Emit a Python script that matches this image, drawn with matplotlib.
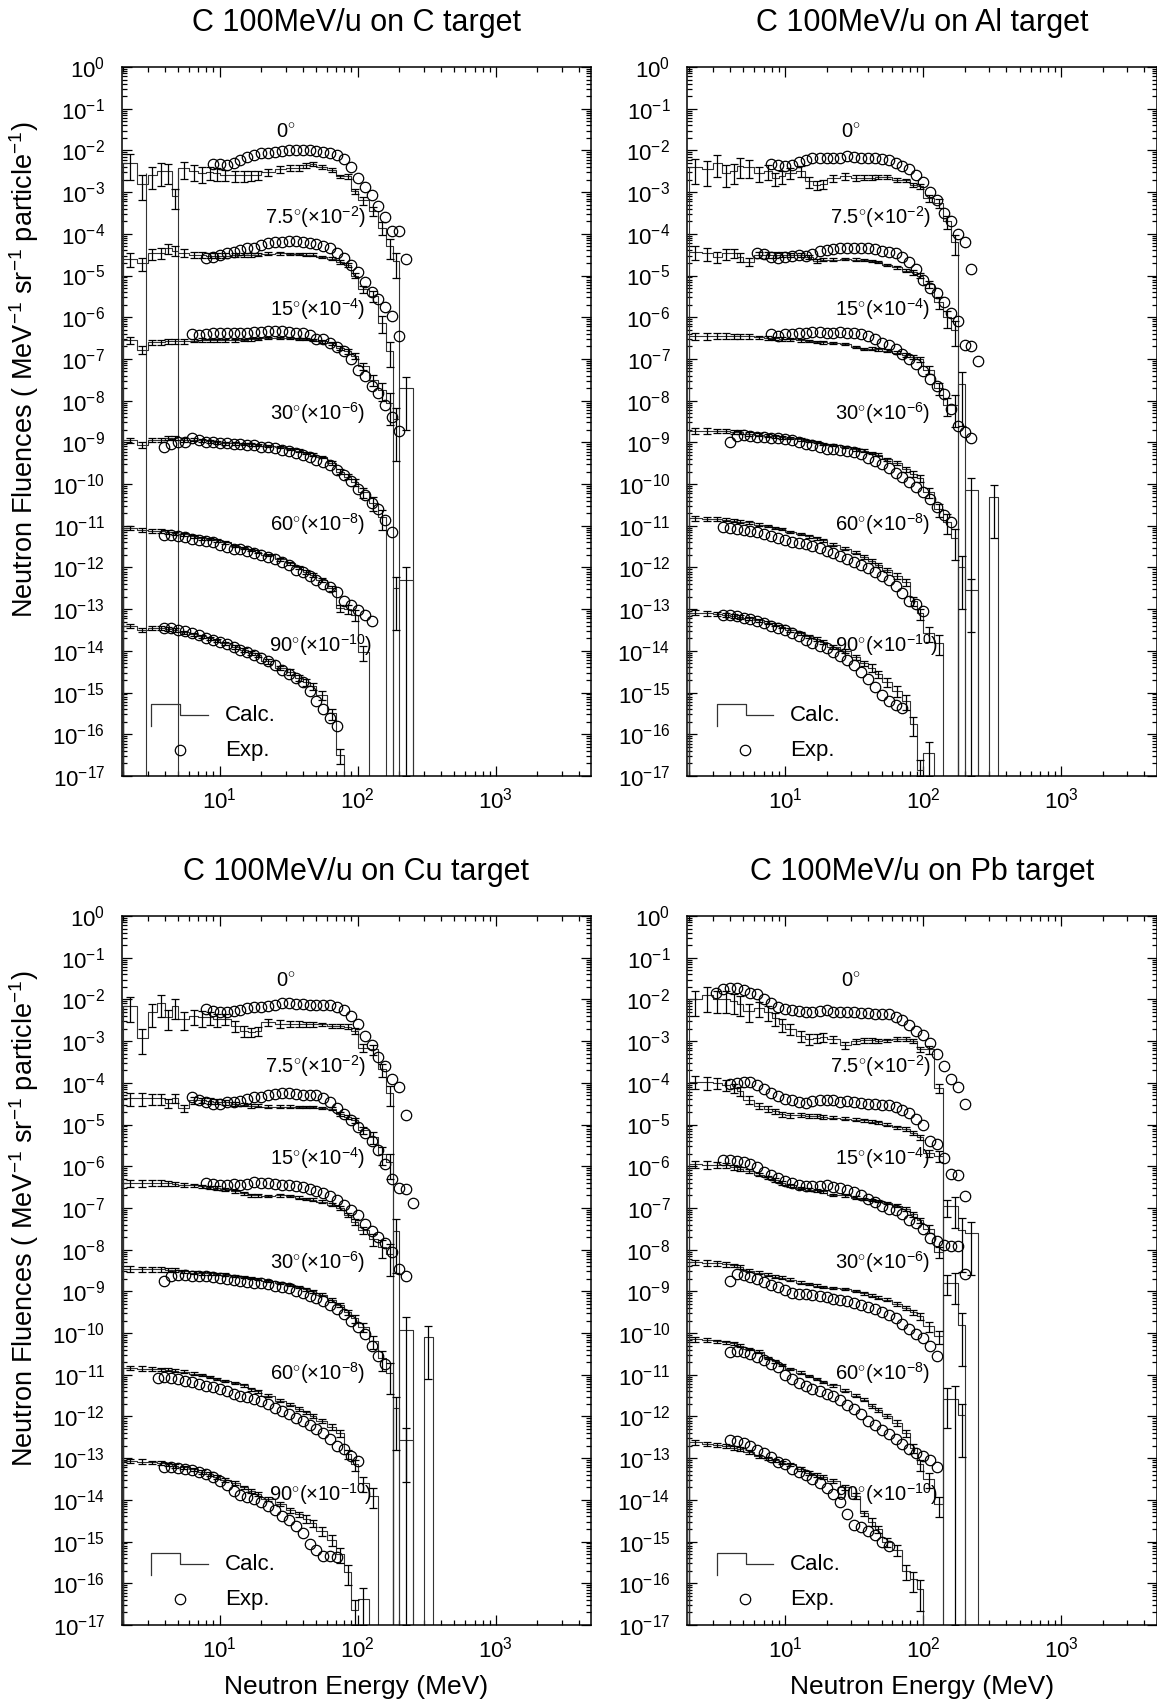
import numpy as np
import matplotlib
matplotlib.use('Agg')
import matplotlib.pyplot as plt
from matplotlib.ticker import LogLocator, NullFormatter

plt.rcParams['font.family'] = ['Liberation Sans', 'DejaVu Sans']
plt.rcParams['mathtext.fontset'] = 'custom'
plt.rcParams['mathtext.rm'] = 'Liberation Sans'
plt.rcParams['mathtext.it'] = 'Liberation Sans:italic'
plt.rcParams['mathtext.bf'] = 'Liberation Sans:bold'

# bin edges of the calculated spectra (MeV)
edges = [2, 2.5, 3, 3.5, 4, 4.5, 5, 6, 7, 8, 9, 10, 12, 14, 16, 18, 20, 25, 30, 35,
         40, 45, 50, 60, 70, 80, 90, 100, 120, 140, 160, 180, 200, 250, 300, 350]
# energies of the measured points (MeV)
exp_energy = [3.16, 3.55, 3.98, 4.47, 5.01, 5.62, 6.31, 7.08, 7.94, 8.91, 10.0, 11.2, 12.6,
              14.1, 15.8, 17.8, 20.0, 22.4, 25.1, 28.2, 31.6, 35.5, 39.8, 44.7, 50.1, 56.2,
              63.1, 70.8, 79.4, 89.1, 100, 112, 126, 141, 158, 178, 200, 224, 251]

angle_labels = [r'0$^{\circ}$', r'7.5$^{\circ}$($\times$10$^{-2}$)', r'15$^{\circ}$($\times$10$^{-4}$)',
                r'30$^{\circ}$($\times$10$^{-6}$)', r'60$^{\circ}$($\times$10$^{-8}$)',
                r'90$^{\circ}$($\times$10$^{-10}$)']
label_E = [30, 49, 51, 51, 51, 54]
label_logy = [-1.55, -3.6, -5.8, -8.3, -10.95, -13.85]

# relative statistical error of the calculation, per angle and bin
calc_err = [
    [0.6, 0.6, 0.55, 0.55, 0.5, 0.5, 0.45, 0.4, 0.4, 0.35, 0.35, 0.3, 0.3, 0.3, 0.25, 0.25, 0.2, 0.2,
     0.15, 0.15, 0.12, 0.12, 0.1, 0.1, 0.1, 0.12, 0.15, 0.2, 0.25, 0.35, 0.5, 0.6, 0.6, 0.6, 0.6],
    [0.35, 0.35, 0.3, 0.3, 0.25, 0.25, 0.2, 0.18, 0.16, 0.15, 0.14, 0.12, 0.11, 0.1, 0.1, 0.09, 0.08,
     0.07, 0.07, 0.07, 0.07, 0.07, 0.07, 0.08, 0.1, 0.12, 0.15, 0.2, 0.3, 0.45, 0.6, 0.8, 0.8, 0.8, 0.8],
    [0.2, 0.2, 0.16, 0.15, 0.14, 0.13, 0.12, 0.1, 0.1, 0.09, 0.09, 0.08, 0.08, 0.07, 0.07, 0.07, 0.06,
     0.06, 0.06, 0.06, 0.06, 0.07, 0.07, 0.08, 0.1, 0.12, 0.15, 0.2, 0.3, 0.45, 0.7, 0.9, 0.9, 0.9, 0.9],
    [0.15, 0.15, 0.12, 0.12, 0.1, 0.1, 0.1, 0.08, 0.08, 0.08, 0.07, 0.07, 0.07, 0.06, 0.06, 0.06, 0.06,
     0.06, 0.06, 0.07, 0.07, 0.08, 0.08, 0.1, 0.12, 0.15, 0.2, 0.25, 0.35, 0.5, 0.7, 0.9, 1.0, 1.0, 0.9],
    [0.12, 0.12, 0.1, 0.1, 0.09, 0.09, 0.08, 0.08, 0.07, 0.07, 0.07, 0.07, 0.07, 0.07, 0.07, 0.07, 0.07,
     0.08, 0.08, 0.09, 0.1, 0.11, 0.12, 0.15, 0.2, 0.25, 0.3, 0.4, 0.5, 0.8, 1.0, 0.9, 0.9, 1.0, 1.0],
    [0.12, 0.12, 0.1, 0.1, 0.1, 0.1, 0.09, 0.09, 0.09, 0.09, 0.09, 0.09, 0.1, 0.1, 0.1, 0.1, 0.12, 0.12,
     0.15, 0.15, 0.2, 0.2, 0.25, 0.3, 0.4, 0.5, 0.7, 0.8, 0.9, 1.0, 1.0, 1.0, 1.0, 1.0, 1.0],
]

# ---- C target: log10 of plotted fluence ----
calc_C = [
    [-2.3, -2.8, -2.59, -2.5, -2.5, -3.1, -2.43, -2.5, -2.55, -2.52, -2.55, -2.58, -2.6, -2.6, -2.6, -2.58,
     -2.52, -2.45, -2.42, -2.42, -2.36, -2.33, -2.4, -2.47, -2.62, -2.62, -2.98, -3.2, -3.45, -3.85, -4.3,
     -4.66, None, None, None],
    [-4.6, -4.7, -4.47, -4.45, -4.35, -4.4, -4.45, -4.5, -4.5, -4.52, -4.52, -4.52, -4.5, -4.5, -4.5, -4.5,
     -4.48, -4.47, -4.48, -4.48, -4.5, -4.5, -4.55, -4.6, -4.67, -4.75, -5.0, -5.32, -5.48, -6.13, -6.8,
     None, None, None, None],
    [-6.55, -6.78, -6.6, -6.6, -6.58, -6.58, -6.58, -6.56, -6.55, -6.55, -6.55, -6.55, -6.55, -6.55, -6.53,
     -6.52, -6.5, -6.49, -6.5, -6.52, -6.53, -6.55, -6.58, -6.62, -6.73, -6.82, -6.93, -7.18, -7.5, -7.75,
     -8.05, -8.45, -7.7, None, None],
    [-8.95, -9.06, -8.94, -8.94, -8.9, -8.9, -8.94, -8.94, -8.95, -8.97, -9.0, -9.02, -9.02, -9.03, -9.05,
     -9.06, -9.08, -9.12, -9.16, -9.2, -9.25, -9.3, -9.35, -9.5, -9.7, -9.82, -9.95, -10.2, -10.45, -10.8,
     None, -12.5, -12.3, None, None],
    [-11.05, -11.1, -11.12, -11.13, -11.15, -11.18, -11.2, -11.25, -11.3, -11.32, -11.35, -11.4, -11.48,
     -11.53, -11.58, -11.62, -11.7, -11.8, -11.9, -12.0, -12.1, -12.18, -12.3, -12.5, -12.97, -13.0, -13.13,
     -14.03, None, None, None, None, None, None, None],
    [-13.4, -13.5, -13.45, -13.45, -13.48, -13.5, -13.55, -13.6, -13.65, -13.7, -13.75, -13.82, -13.9,
     -13.98, -14.05, -14.1, -14.25, -14.4, -14.5, -14.65, -14.75, -14.85, -15.05, -15.5, -16.5,
     None, None, None, None, None, None, None, None, None, None],
]
exp_start_C = [9, 8, 6, 2, 2, 2]
exp_C = [
    [-2.33, -2.33, -2.36, -2.31, -2.23, -2.15, -2.11, -2.06, -2.06, -2.05, -2.02, -2.0, -2.0, -2.0, -2.0,
     -2.02, -2.04, -2.06, -2.1, -2.2, -2.4, -2.67, -2.87, -3.06, -3.34, -3.6, -3.93, -3.93, -4.6],
    [-4.59, -4.55, -4.51, -4.47, -4.43, -4.39, -4.35, -4.33, -4.27, -4.23, -4.2, -4.19, -4.17, -4.17, -4.19,
     -4.21, -4.24, -4.28, -4.33, -4.47, -4.58, -4.75, -4.92, -5.16, -5.4, -5.56, -5.75, -5.96, -6.45],
    [-6.4, -6.42, -6.4, -6.38, -6.37, -6.37, -6.38, -6.37, -6.37, -6.35, -6.35, -6.33, -6.33, -6.33, -6.35,
     -6.37, -6.38, -6.42, -6.51, -6.53, -6.61, -6.72, -6.81, -7.0, -7.26, -7.42, -7.66, -7.82, -8.1, -8.4,
     -8.73],
    [-9.1, -9.03, -9.0, -8.98, -8.9, -8.95, -8.98, -9.0, -9.01, -9.02, -9.04, -9.05, -9.06, -9.07, -9.1,
     -9.12, -9.14, -9.18, -9.2, -9.25, -9.3, -9.36, -9.42, -9.47, -9.55, -9.66, -9.78, -9.93, -10.12, -10.27,
     -10.45, -10.6, -10.85, -11.15],
    [-11.23, -11.23, -11.25, -11.28, -11.31, -11.33, -11.36, -11.4, -11.45, -11.52, -11.55, -11.56, -11.6,
     -11.65, -11.7, -11.74, -11.8, -11.87, -11.95, -12.05, -12.12, -12.2, -12.3, -12.4, -12.48, -12.6, -12.8,
     -12.9, -13.03, -13.15, -13.29],
    [-13.45, -13.45, -13.5, -13.53, -13.58, -13.62, -13.68, -13.73, -13.78, -13.83, -13.9, -13.98, -14.03,
     -14.1, -14.18, -14.25, -14.35, -14.45, -14.55, -14.65, -14.75, -14.95, -15.2, -15.4, -15.6, -15.8],
]
drops_C = [(2.9, -2.55), (5.0, -2.45)]

# ---- Al target ----
calc_Al = [
    [-2.4, -2.45, -2.29, -2.54, -2.5, -2.37, -2.4, -2.54, -2.49, -2.66, -2.62, -2.54, -2.49, -2.74, -2.82,
     -2.8, -2.66, -2.62, -2.66, -2.65, -2.65, -2.64, -2.64, -2.7, -2.72, -2.82, -2.86, -3.14, -3.26, -3.7,
     -4.2, None, None, None, None],
    [-4.43, -4.47, -4.55, -4.47, -4.45, -4.55, -4.67, -4.5, -4.5, -4.5, -4.5, -4.5, -4.5, -4.55, -4.65,
     -4.62, -4.62, -4.6, -4.62, -4.63, -4.65, -4.68, -4.75, -4.8, -4.88, -4.92, -5.0, -5.2, -5.64, -6.0,
     -6.3, None, None, None, None],
    [-6.45, -6.45, -6.45, -6.45, -6.45, -6.46, -6.46, -6.48, -6.5, -6.5, -6.52, -6.53, -6.55, -6.57, -6.59,
     -6.6, -6.62, -6.65, -6.72, -6.77, -6.75, -6.77, -6.8, -6.85, -6.9, -6.95, -7.01, -7.26, -7.7, -8.1,
     -8.1, -7.6, None, None, None],
    [-8.72, -8.72, -8.72, -8.72, -8.75, -8.75, -8.8, -8.82, -8.84, -8.85, -8.88, -8.9, -8.93, -8.97, -9.0,
     -9.03, -9.07, -9.12, -9.17, -9.2, -9.25, -9.3, -9.4, -9.5, -9.65, -9.75, -9.85, -10.2, -10.6, -10.9,
     -11.3, None, -10.15, None, -10.3],
    [-10.82, -10.83, -10.84, -10.85, -10.88, -10.9, -10.92, -10.97, -11.0, -11.05, -11.08, -11.15, -11.2,
     -11.25, -11.3, -11.35, -11.45, -11.55, -11.65, -11.75, -11.85, -11.95, -12.05, -12.2, -12.35, -12.8,
     -13.1, -13.57, -13.8, None, None, -12.0, -12.55, None, None],
    [-13.08, -13.1, -13.12, -13.14, -13.16, -13.18, -13.22, -13.27, -13.32, -13.37, -13.42, -13.5, -13.58,
     -13.65, -13.72, -13.78, -13.9, -14.0, -14.15, -14.3, -14.4, -14.55, -14.75, -14.95, -15.2, -15.75,
     -16.85, -16.45, None, None, None, None, None, None, None],
]
exp_start_Al = [8, 6, 8, 2, 1, 1]
exp_Al = [
    [-2.33, -2.36, -2.38, -2.34, -2.28, -2.23, -2.19, -2.19, -2.18, -2.18, -2.18, -2.14, -2.15, -2.18, -2.19,
     -2.19, -2.21, -2.24, -2.3, -2.38, -2.45, -2.58, -2.75, -3.0, -3.2, -3.5, -3.7, -4.0, -4.2, -4.85],
    [-4.45, -4.48, -4.55, -4.58, -4.56, -4.53, -4.5, -4.53, -4.48, -4.42, -4.39, -4.36, -4.35, -4.34, -4.34,
     -4.34, -4.34, -4.37, -4.4, -4.43, -4.47, -4.55, -4.68, -4.85, -5.1, -5.3, -5.42, -5.64, -5.9, -6.1,
     -6.66, -6.7, -7.06],
    [-6.41, -6.44, -6.41, -6.39, -6.37, -6.37, -6.35, -6.35, -6.37, -6.37, -6.36, -6.37, -6.38, -6.41, -6.44,
     -6.53, -6.61, -6.67, -6.77, -6.88, -7.0, -7.12, -7.3, -7.48, -7.66, -7.85, -8.2, -8.6, -8.75, -8.9],
    [-9.0, -8.85, -8.82, -8.84, -8.86, -8.87, -8.89, -8.9, -8.93, -8.95, -9.0, -9.03, -9.07, -9.1, -9.15,
     -9.17, -9.19, -9.2, -9.24, -9.29, -9.37, -9.45, -9.53, -9.62, -9.73, -9.82, -9.95, -10.08, -10.2,
     -10.35, -10.55, -10.75, -10.9],
    [-11.03, -11.06, -11.07, -11.09, -11.12, -11.16, -11.2, -11.25, -11.29, -11.33, -11.38, -11.42, -11.44,
     -11.48, -11.54, -11.6, -11.66, -11.73, -11.8, -11.87, -11.95, -12.02, -12.1, -12.2, -12.3, -12.45,
     -12.62, -12.8, -12.88, -13.04],
    [-13.14, -13.15, -13.17, -13.2, -13.23, -13.28, -13.33, -13.4, -13.45, -13.5, -13.57, -13.65, -13.75,
     -13.82, -13.88, -13.94, -14.02, -14.12, -14.22, -14.35, -14.5, -14.68, -14.86, -15.05, -15.2, -15.3,
     -15.38],
]
drops_Al = []

# ---- Cu target ----
calc_Cu = [
    [-2.15, -2.92, -2.31, -2.08, -2.43, -2.16, -2.47, -2.4, -2.43, -2.43, -2.47, -2.47, -2.63, -2.75, -2.78,
     -2.75, -2.55, -2.58, -2.58, -2.58, -2.6, -2.6, -2.6, -2.63, -2.63, -2.65, -2.75, -3.16, -3.2, -3.68,
     -4.25, None, None, None, None],
    [-4.37, -4.37, -4.37, -4.37, -4.49, -4.37, -4.61, -4.42, -4.42, -4.43, -4.45, -4.47, -4.5, -4.52, -4.55,
     -4.55, -4.57, -4.57, -4.57, -4.58, -4.58, -4.58, -4.6, -4.62, -4.75, -4.82, -4.9, -5.14, -5.3, -5.7,
     -5.9, None, None, None, None],
    [-6.4, -6.4, -6.4, -6.4, -6.4, -6.42, -6.44, -6.46, -6.48, -6.5, -6.52, -6.55, -6.6, -6.65, -6.7, -6.7,
     -6.72, -6.7, -6.72, -6.75, -6.78, -6.8, -6.85, -6.92, -7.0, -7.17, -7.33, -7.53, -7.75, -7.94, -8.1,
     -7.55, None, None, None],
    [-8.46, -8.47, -8.47, -8.47, -8.48, -8.48, -8.52, -8.55, -8.56, -8.57, -8.58, -8.6, -8.63, -8.66, -8.68,
     -8.7, -8.75, -8.8, -8.85, -8.9, -8.95, -9.0, -9.08, -9.2, -9.33, -9.5, -9.65, -9.85, -10.2, -10.6,
     -10.95, None, -9.92, None, -10.1],
    [-10.84, -10.85, -10.86, -10.87, -10.88, -10.9, -10.93, -10.97, -11.0, -11.05, -11.1, -11.15, -11.2,
     -11.25, -11.35, -11.4, -11.5, -11.62, -11.72, -11.82, -11.9, -11.98, -12.1, -12.25, -12.4, -12.9,
     -13.15, -13.6, -13.9, None, None, -11.8, -12.56, None, None],
    [-13.06, -13.08, -13.1, -13.12, -13.15, -13.18, -13.22, -13.27, -13.33, -13.38, -13.45, -13.52, -13.6,
     -13.7, -13.78, -13.85, -13.98, -14.1, -14.25, -14.35, -14.45, -14.55, -14.75, -14.95, -15.3, -15.74,
     -16.63, -16.38, None, None, None, None, None, None, None],
]
exp_start_Cu = [8, 6, 8, 2, 1, 2]
exp_Cu = [
    [-2.24, -2.27, -2.3, -2.31, -2.28, -2.25, -2.21, -2.19, -2.17, -2.16, -2.14, -2.09, -2.08, -2.1, -2.12,
     -2.13, -2.13, -2.13, -2.14, -2.18, -2.25, -2.4, -2.6, -2.88, -3.1, -3.38, -3.6, -3.91, -4.1, -4.78],
    [-4.33, -4.4, -4.47, -4.5, -4.5, -4.45, -4.45, -4.43, -4.38, -4.35, -4.33, -4.3, -4.27, -4.25, -4.25,
     -4.26, -4.28, -4.29, -4.3, -4.36, -4.45, -4.6, -4.75, -4.9, -5.05, -5.2, -5.4, -5.6, -5.95, -6.3,
     -6.52, -6.55, -6.88],
    [-6.4, -6.42, -6.44, -6.44, -6.43, -6.44, -6.42, -6.38, -6.39, -6.41, -6.42, -6.44, -6.45, -6.47, -6.5,
     -6.55, -6.6, -6.65, -6.72, -6.8, -6.92, -7.05, -7.18, -7.38, -7.55, -7.7, -7.85, -8.06, -8.46, -8.62],
    [-8.75, -8.62, -8.6, -8.61, -8.62, -8.63, -8.64, -8.66, -8.68, -8.7, -8.72, -8.74, -8.77, -8.79, -8.81,
     -8.83, -8.86, -8.89, -8.93, -8.99, -9.03, -9.1, -9.15, -9.23, -9.33, -9.43, -9.55, -9.7, -9.85, -10.02,
     -10.3, -10.55, -10.75],
    [-11.08, -11.06, -11.08, -11.1, -11.14, -11.18, -11.22, -11.26, -11.3, -11.35, -11.4, -11.45, -11.5,
     -11.53, -11.57, -11.63, -11.7, -11.8, -11.87, -11.95, -12.03, -12.1, -12.2, -12.3, -12.4, -12.55, -12.7,
     -12.78, -12.95, -13.06],
    [-13.2, -13.22, -13.23, -13.26, -13.28, -13.32, -13.38, -13.45, -13.55, -13.65, -13.78, -13.88, -13.93,
     -13.98, -14.05, -14.15, -14.25, -14.38, -14.48, -14.62, -14.8, -15.05, -15.2, -15.35, -15.35, -15.37],
]
drops_Cu = []

# ---- Pb target ----
calc_Pb = [
    [-2.0, -1.9, -1.98, -1.98, -2.05, -2.1, -2.27, -2.2, -2.3, -2.45, -2.59, -2.7, -2.87, -2.95, -2.92,
     -2.9, -2.95, -3.1, -3.0, -2.98, -2.98, -3.0, -2.98, -2.95, -2.95, -3.0, -3.2, -3.2, -4.13,
     None, None, None, None, None, None],
    [-3.97, -3.98, -4.0, -4.05, -4.12, -4.2, -4.4, -4.55, -4.62, -4.68, -4.75, -4.78, -4.78, -4.8, -4.8,
     -4.82, -4.84, -4.86, -4.88, -4.9, -4.93, -4.95, -5.0, -5.06, -5.1, -5.2, -5.3, -5.68, -5.75,
     None, None, None, None, None, None],
    [-5.95, -5.96, -5.97, -5.98, -6.02, -6.06, -6.11, -6.2, -6.27, -6.33, -6.4, -6.45, -6.52, -6.56, -6.58,
     -6.6, -6.68, -6.7, -6.75, -6.78, -6.8, -6.83, -6.88, -6.95, -7.02, -7.15, -7.29, -7.5, -8.05, -6.96,
     -6.96, -7.53, -7.61, None, None],
    [-8.3, -8.31, -8.33, -8.35, -8.38, -8.42, -8.5, -8.55, -8.6, -8.65, -8.67, -8.72, -8.79, -8.82, -8.86,
     -8.9, -8.92, -8.95, -9.0, -9.05, -9.1, -9.15, -9.2, -9.3, -9.4, -9.5, -9.6, -9.84, -10.08, -8.79, -8.79,
     -9.8, None, None, None],
    [-10.15, -10.17, -10.2, -10.22, -10.25, -10.3, -10.38, -10.45, -10.6, -10.68, -10.76, -10.86, -10.95,
     -11.03, -11.1, -11.17, -11.25, -11.38, -11.5, -11.6, -11.75, -11.85, -11.98, -12.15, -12.4, -12.75,
     -13.15, -13.5, -14.1, -11.57, -11.57, -11.97, None, None, None],
    [-12.62, -12.65, -12.68, -12.7, -12.75, -12.78, -12.85, -12.95, -13.0, -13.05, -13.11, -13.15, -13.25,
     -13.35, -13.4, -13.45, -13.55, -13.7, -13.9, -14.32, -14.52, -14.7, -15.0, -15.2, -15.7, -15.9, -16.14,
     None, None, None, None, None, None, None, None],
]
exp_start_Pb = [0, 2, 1, 2, 2, 2]
exp_Pb = [
    [-1.84, -1.76, -1.72, -1.72, -1.78, -1.84, -1.88, -1.98, -2.08, -2.18, -2.23, -2.25, -2.27, -2.3, -2.3,
     -2.28, -2.25, -2.3, -2.31, -2.31, -2.31, -2.32, -2.32, -2.34, -2.35, -2.36, -2.42, -2.5, -2.62, -2.75,
     -2.85, -3.04, -3.3, -3.6, -3.9, -4.1, -4.5],
    [-4.04, -4.01, -3.99, -3.99, -4.05, -4.15, -4.25, -4.32, -4.38, -4.42, -4.47, -4.48, -4.44, -4.42, -4.41,
     -4.42, -4.45, -4.44, -4.46, -4.48, -4.5, -4.51, -4.52, -4.53, -4.59, -4.65, -4.72, -4.86, -5.02, -5.4,
     -5.47, -5.81, -6.18, -6.2, -6.72],
    [-5.84, -5.86, -5.88, -5.91, -5.95, -6.02, -6.13, -6.22, -6.28, -6.35, -6.41, -6.45, -6.47, -6.48, -6.48,
     -6.45, -6.5, -6.53, -6.58, -6.62, -6.68, -6.78, -6.86, -6.95, -7.02, -7.06, -7.15, -7.3, -7.37, -7.5,
     -7.73, -7.8, -7.88, -7.91, -7.92, -8.58],
    [-8.74, -8.58, -8.61, -8.66, -8.7, -8.78, -8.84, -8.9, -8.96, -9.03, -9.07, -9.07, -9.09, -9.11, -9.13,
     -9.18, -9.21, -9.24, -9.28, -9.32, -9.37, -9.43, -9.5, -9.57, -9.65, -9.78, -9.9, -10.02, -10.12, -10.3,
     -10.55],
    [-10.45, -10.43, -10.46, -10.5, -10.57, -10.65, -10.73, -10.82, -11.0, -11.1, -11.2, -11.28, -11.34,
     -11.4, -11.45, -11.5, -11.6, -11.72, -11.82, -11.93, -12.1, -12.2, -12.32, -12.42, -12.55, -12.66,
     -12.78, -12.88, -12.95, -13.05, -13.2],
    [-12.56, -12.6, -12.63, -12.7, -12.8, -12.88, -12.98, -13.08, -13.15, -13.25, -13.32, -13.4, -13.5, -13.6,
     -13.72, -13.85, -14.05, -14.35, -14.6, -14.65, -14.75, -14.85, -15.0, -15.1],
]
drops_Pb = []

panels = [
    ('C', calc_C, exp_start_C, exp_C, drops_C),
    ('Al', calc_Al, exp_start_Al, exp_Al, drops_Al),
    ('Cu', calc_Cu, exp_start_Cu, exp_Cu, drops_Cu),
    ('Pb', calc_Pb, exp_start_Pb, exp_Pb, drops_Pb),
]

YMIN, YMAX = 1e-17, 1.0
XMIN, XMAX = 1.95, 4900
W, H = 1157, 1702

fig = plt.figure(figsize=(W / 100, H / 100), dpi=100)
# axes boxes in pixels: left, top
boxes = [(121.7, 67), (687, 67), (121.7, 916), (687, 916)]
aw, ah = 469.5, 709

e = np.array(edges, dtype=float)
xc = np.sqrt(e[:-1] * e[1:])

for (name, calc, exp_start, exp_vals, drops), (px, py) in zip(panels, boxes):
    ax = fig.add_axes([px / W, 1 - (py + ah) / H, aw / W, ah / H])
    ax.set_xscale('log')
    ax.set_yscale('log')
    ax.set_xlim(XMIN, XMAX)
    ax.set_ylim(YMIN, YMAX)

    for k in range(6):
        v = 10.0 ** np.array(calc[k], dtype=float)
        ok = ~np.isnan(v)
        n = len(v)
        j = 0
        while j < n:
            if not ok[j]:
                j += 1
                continue
            s = j
            while j < n and ok[j]:
                j += 1
            xs = [e[s]]
            ys = [YMIN]
            for b in range(s, j):
                xs += [e[b], e[b + 1]]
                ys += [v[b], v[b]]
            xs.append(e[j])
            ys.append(YMIN)
            ax.plot(xs, ys, color='#333333', lw=0.8, zorder=2)
        err = np.array(calc_err[k])
        lo = v * (1 - err)
        lo = np.where(lo <= YMIN, YMIN, lo)
        hi = v * (1 + err)
        ax.errorbar(xc[ok], v[ok], yerr=[v[ok] - lo[ok], hi[ok] - v[ok]], fmt='none',
                    ecolor='black', elinewidth=0.9, capsize=2.8, capthick=0.9, zorder=3)

        i0 = exp_start[k]
        ev = exp_vals[k]
        ex = np.array(exp_energy[i0:i0 + len(ev)])
        ax.plot(ex, 10.0 ** np.array(ev), 'o', mfc='none', mec='black', ms=7.5, mew=0.9, zorder=4)

        ax.text(label_E[k], 10.0 ** label_logy[k], angle_labels[k], ha='center', va='center',
                fontsize=14.5, zorder=5)

    for E, top in drops:
        ax.vlines(E, YMIN, 10.0 ** top, color='#333333', lw=0.8, zorder=2)

    # legend glyphs
    ax.plot([0.063, 0.063, 0.125, 0.125, 0.183], [0.07, 0.101, 0.101, 0.086, 0.086],
            transform=ax.transAxes, color='#333333', lw=0.9)
    ax.plot([0.124], [0.036], 'o', mfc='none', mec='black', ms=7.5, mew=0.9, transform=ax.transAxes)
    ax.text(0.22, 0.086, 'Calc.', transform=ax.transAxes, va='center', fontsize=16)
    ax.text(0.22, 0.036, 'Exp.', transform=ax.transAxes, va='center', fontsize=16)

    ax.yaxis.set_major_locator(LogLocator(base=10, numticks=40))
    ax.yaxis.set_minor_locator(LogLocator(base=10, subs=np.arange(2, 10), numticks=400))
    ax.yaxis.set_minor_formatter(NullFormatter())
    ax.xaxis.set_major_locator(LogLocator(base=10, numticks=10))
    ax.xaxis.set_minor_locator(LogLocator(base=10, subs=np.arange(2, 10), numticks=100))
    ax.xaxis.set_minor_formatter(NullFormatter())
    ax.tick_params(which='both', direction='in', top=True, right=True, width=0.9)
    ax.tick_params(which='major', length=7, labelsize=16)
    ax.tick_params(which='minor', length=3.5)
    ax.tick_params(axis='y', which='major', pad=12)
    ax.tick_params(axis='x', which='major', pad=8)
    for sp in ax.spines.values():
        sp.set_linewidth(1.1)

    fig.text((px + aw / 2) / W, 1 - (py - 44) / H, 'C 100MeV/u on %s target' % name,
             ha='center', va='center', fontsize=22)

ylab = r'Neutron Fluences ( MeV$^{-1}$ sr$^{-1}$ particle$^{-1}$)'
fig.text(24 / W, 1 - 370 / H, ylab, rotation=90, ha='center', va='center', fontsize=19.5)
fig.text(24 / W, 1 - 1219 / H, ylab, rotation=90, ha='center', va='center', fontsize=19.5)
for px in (121.7, 687):
    fig.text((px + aw / 2) / W, 1 - 1687 / H, 'Neutron Energy (MeV)', ha='center', va='center',
             fontsize=19)

fig.savefig('out.png', dpi=100)
